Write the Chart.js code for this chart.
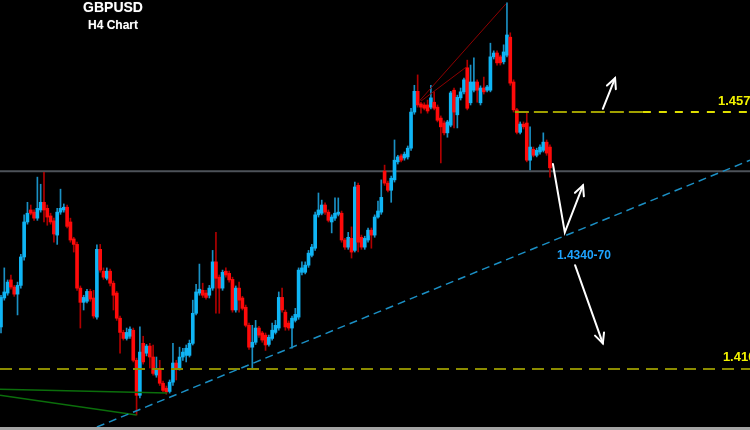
<!DOCTYPE html>
<html lang="en">
<head>
<meta charset="UTF-8">
<title>GBPUSD H4 Chart</title>
<script src="https://cdn.jsdelivr.net/npm/chart.js"></script>
<style>
    html, body { margin: 0; padding: 0; background: #a4a4a4; }
    .wrap { position: relative; width: 750px; height: 427px; background: #000; }
    canvas { display: block; }
    .title {
        position: absolute; left: 53px; width: 120px; text-align: center;
        color: #fff; font-family: "Liberation Sans", Arial, sans-serif; font-weight: bold;
        text-shadow: 0 0 1px #666;
    }
    #t1 { top: -1px; font-size: 14px; }
    #t2 { top: 18px; font-size: 12px; }
</style>
</head>
<body>
<div class="wrap">
    <canvas id="chart" width="750" height="427"></canvas>
    <div class="title" id="t1">GBPUSD</div>
    <div class="title" id="t2">H4 Chart</div>
</div>

<script>
// H4 candles, oldest first
const open = [
    1.4177, 1.4230, 1.4239, 1.4263, 1.4250, 1.4237, 1.4253, 1.4305, 1.4369, 1.4391,
    1.4387, 1.4376, 1.4391, 1.4405, 1.4394, 1.4380, 1.4371, 1.4345, 1.4387, 1.4391,
    1.4396, 1.4369, 1.4338, 1.4328, 1.4248, 1.4222, 1.4224, 1.4242, 1.4230, 1.4195,
    1.4319, 1.4279, 1.4266, 1.4279, 1.4257, 1.4239, 1.4193, 1.4167, 1.4156, 1.4160,
    1.4171, 1.4116, 1.4052, 1.4147, 1.4129, 1.4142, 1.4122, 1.4089, 1.4100, 1.4074,
    1.4065, 1.4059, 1.4076, 1.4111, 1.4100, 1.4122, 1.4125, 1.4125, 1.4147, 1.4202,
    1.4239, 1.4244, 1.4239, 1.4235, 1.4248, 1.4296, 1.4268, 1.4248, 1.4279, 1.4275,
    1.4264, 1.4208, 1.4248, 1.4230, 1.4213, 1.4180, 1.4140, 1.4149, 1.4175, 1.4166,
    1.4162, 1.4145, 1.4156, 1.4167, 1.4175, 1.4231, 1.4204, 1.4184, 1.4175, 1.4189,
    1.4195, 1.4277, 1.4277, 1.4290, 1.4308, 1.4321, 1.4382, 1.4385, 1.4400, 1.4387,
    1.4369, 1.4376, 1.4383, 1.4385, 1.4336, 1.4323, 1.4339, 1.4317, 1.4436, 1.4341,
    1.4323, 1.4336, 1.4354, 1.4345, 1.4378, 1.4387, 1.4462, 1.4440, 1.4427, 1.4446,
    1.4479, 1.4490, 1.4486, 1.4488, 1.4504, 1.4570, 1.4608, 1.4585, 1.4583, 1.4583,
    1.4579, 1.4588, 1.4579, 1.4559, 1.4550, 1.4532, 1.4546, 1.4610, 1.4565, 1.4596,
    1.4607, 1.4651, 1.4587, 1.4610, 1.4625, 1.4587, 1.4614, 1.4610, 1.4610, 1.4671,
    1.4678, 1.4671, 1.4662, 1.4674, 1.4707, 1.4625, 1.4574, 1.4533, 1.4548, 1.4550,
    1.4482, 1.4502, 1.4491, 1.4497, 1.4500, 1.4515, 1.4506
];
const high = [
    1.4235, 1.4285, 1.4263, 1.4272, 1.4253, 1.4259, 1.4310, 1.4382, 1.4405, 1.4400,
    1.4391, 1.4451, 1.4438, 1.4460, 1.4400, 1.4385, 1.4376, 1.4394, 1.4429, 1.4402,
    1.4400, 1.4376, 1.4341, 1.4332, 1.4252, 1.4235, 1.4246, 1.4246, 1.4244, 1.4327,
    1.4328, 1.4285, 1.4285, 1.4283, 1.4261, 1.4242, 1.4197, 1.4171, 1.4175, 1.4177,
    1.4175, 1.4120, 1.4177, 1.4160, 1.4145, 1.4147, 1.4144, 1.4122, 1.4116, 1.4078,
    1.4069, 1.4080, 1.4147, 1.4116, 1.4140, 1.4138, 1.4144, 1.4153, 1.4226, 1.4255,
    1.4292, 1.4257, 1.4244, 1.4253, 1.4317, 1.4350, 1.4272, 1.4281, 1.4285, 1.4279,
    1.4268, 1.4252, 1.4259, 1.4233, 1.4217, 1.4184, 1.4180, 1.4189, 1.4178, 1.4169,
    1.4166, 1.4162, 1.4184, 1.4189, 1.4241, 1.4248, 1.4208, 1.4188, 1.4197, 1.4211,
    1.4285, 1.4296, 1.4296, 1.4317, 1.4328, 1.4387, 1.4422, 1.4409, 1.4404, 1.4391,
    1.4382, 1.4413, 1.4413, 1.4389, 1.4339, 1.4350, 1.4360, 1.4442, 1.4440, 1.4345,
    1.4343, 1.4358, 1.4358, 1.4382, 1.4407, 1.4446, 1.4473, 1.4444, 1.4453, 1.4519,
    1.4491, 1.4493, 1.4497, 1.4508, 1.4577, 1.4619, 1.4638, 1.4588, 1.4587, 1.4592,
    1.4619, 1.4607, 1.4583, 1.4563, 1.4554, 1.4555, 1.4608, 1.4614, 1.4601, 1.4614,
    1.4632, 1.4665, 1.4656, 1.4669, 1.4629, 1.4618, 1.4634, 1.4619, 1.4696, 1.4682,
    1.4682, 1.4674, 1.4693, 1.4770, 1.4715, 1.4629, 1.4577, 1.4552, 1.4552, 1.4568,
    1.4543, 1.4506, 1.4504, 1.4510, 1.4532, 1.4519, 1.4510
];
const low = [
    1.4166, 1.4226, 1.4235, 1.4246, 1.4233, 1.4199, 1.4248, 1.4299, 1.4365, 1.4382,
    1.4372, 1.4372, 1.4387, 1.4369, 1.4363, 1.4365, 1.4332, 1.4328, 1.4383, 1.4387,
    1.4358, 1.4332, 1.4314, 1.4244, 1.4175, 1.4208, 1.4221, 1.4224, 1.4193, 1.4191,
    1.4277, 1.4264, 1.4263, 1.4252, 1.4208, 1.4189, 1.4129, 1.4153, 1.4153, 1.4156,
    1.4113, 1.4016, 1.4047, 1.4109, 1.4124, 1.4102, 1.4089, 1.4085, 1.4070, 1.4058,
    1.4054, 1.4056, 1.4070, 1.4080, 1.4098, 1.4116, 1.4113, 1.4122, 1.4144, 1.4199,
    1.4235, 1.4231, 1.4228, 1.4230, 1.4244, 1.4202, 1.4202, 1.4244, 1.4268, 1.4259,
    1.4204, 1.4204, 1.4204, 1.4208, 1.4177, 1.4136, 1.4102, 1.4145, 1.4158, 1.4149,
    1.4134, 1.4142, 1.4153, 1.4164, 1.4171, 1.4204, 1.4171, 1.4171, 1.4138, 1.4186,
    1.4191, 1.4272, 1.4274, 1.4286, 1.4305, 1.4317, 1.4378, 1.4382, 1.4383, 1.4369,
    1.4349, 1.4372, 1.4380, 1.4332, 1.4319, 1.4319, 1.4303, 1.4314, 1.4314, 1.4319,
    1.4319, 1.4332, 1.4321, 1.4341, 1.4376, 1.4383, 1.4436, 1.4424, 1.4405, 1.4442,
    1.4475, 1.4479, 1.4482, 1.4484, 1.4500, 1.4566, 1.4579, 1.4568, 1.4574, 1.4568,
    1.4576, 1.4574, 1.4552, 1.4477, 1.4528, 1.4524, 1.4543, 1.4541, 1.4541, 1.4592,
    1.4603, 1.4574, 1.4583, 1.4607, 1.4588, 1.4583, 1.4603, 1.4607, 1.4607, 1.4667,
    1.4656, 1.4656, 1.4658, 1.4671, 1.4619, 1.4570, 1.4530, 1.4530, 1.4539, 1.4479,
    1.4464, 1.4488, 1.4488, 1.4493, 1.4497, 1.4491, 1.4451
];
const close = [
    1.4231, 1.4241, 1.4259, 1.4250, 1.4237, 1.4253, 1.4305, 1.4369, 1.4385, 1.4385,
    1.4376, 1.4394, 1.4405, 1.4391, 1.4378, 1.4369, 1.4347, 1.4387, 1.4394, 1.4396,
    1.4361, 1.4336, 1.4328, 1.4248, 1.4222, 1.4231, 1.4242, 1.4228, 1.4197, 1.4319,
    1.4281, 1.4268, 1.4279, 1.4257, 1.4235, 1.4193, 1.4167, 1.4156, 1.4167, 1.4173,
    1.4116, 1.4052, 1.4131, 1.4113, 1.4142, 1.4122, 1.4092, 1.4098, 1.4074, 1.4061,
    1.4058, 1.4076, 1.4111, 1.4100, 1.4122, 1.4131, 1.4138, 1.4147, 1.4202, 1.4241,
    1.4246, 1.4235, 1.4231, 1.4248, 1.4296, 1.4266, 1.4248, 1.4277, 1.4272, 1.4263,
    1.4208, 1.4248, 1.4226, 1.4211, 1.4180, 1.4140, 1.4149, 1.4175, 1.4162, 1.4153,
    1.4144, 1.4158, 1.4171, 1.4180, 1.4231, 1.4208, 1.4177, 1.4175, 1.4193, 1.4200,
    1.4281, 1.4285, 1.4290, 1.4312, 1.4323, 1.4382, 1.4391, 1.4400, 1.4387, 1.4372,
    1.4378, 1.4385, 1.4387, 1.4336, 1.4323, 1.4341, 1.4314, 1.4433, 1.4332, 1.4323,
    1.4339, 1.4354, 1.4345, 1.4378, 1.4389, 1.4414, 1.4440, 1.4427, 1.4449, 1.4482,
    1.4488, 1.4482, 1.4493, 1.4504, 1.4570, 1.4608, 1.4583, 1.4579, 1.4577, 1.4572,
    1.4596, 1.4577, 1.4555, 1.4543, 1.4532, 1.4552, 1.4605, 1.4570, 1.4597, 1.4607,
    1.4629, 1.4577, 1.4625, 1.4625, 1.4610, 1.4614, 1.4607, 1.4616, 1.4671, 1.4678,
    1.4660, 1.4660, 1.4680, 1.4711, 1.4623, 1.4574, 1.4533, 1.4548, 1.4543, 1.4482,
    1.4506, 1.4491, 1.4500, 1.4506, 1.4515, 1.4495, 1.4468
];

// price levels and drawn lines, as [bar index, price]
const resistance = 1.4570;
const support = 1.4100;
const pivot = 1.4462;
const resistanceFrom = 155.4;
const resistanceSplit = 194.1;
const trendline = [[29.0, 1.3994], [226.5, 1.4482]];
const wedgeUpper = [[126.5, 1.4590], [152.7, 1.4768]];
const wedgeLower = [[127.0, 1.4590], [140.6, 1.4652]];
const greenUpper = [[-0.3, 1.4063], [50.2, 1.4056]];
const greenLower = [[-0.3, 1.4052], [41.0, 1.4016]];
const arrowUp = [[182.0, 1.4576], [185.7, 1.4632]];
const arrowBounce = [[166.9, 1.4475], [170.5, 1.4350], [176.0, 1.4436]];
const arrowDown = [[173.6, 1.4290], [182.0, 1.4147]];
const labelTexts = ['1.4570', '1.4100', '1.4340-70'];
const labelAnchors = [[216.8, 1.4590], [218.3, 1.4121], [168.1, 1.4307]];

const xMin = -0.3, xMax = 226.5;
const yMin = 1.3994, yMax = 1.4775;

const BULL = '#0fb5f5', BEAR = '#ff0a0a';
const BULL_WICK = '#1a90c4', BEAR_WICK = '#b00000';

const pts = arr => arr.map(([x, y]) => ({ x, y }));
const lineSet = (data, color, width, dash, order) => ({
    type: 'line', data, borderColor: color, borderWidth: width,
    borderDash: dash, pointRadius: 0, fill: false, order: order
});

const annotate = {
    id: 'annotate',
    afterDatasetsDraw(chart) {
        const { ctx, scales: { x, y } } = chart;
        const px = ([a, b]) => [x.getPixelForValue(a), y.getPixelForValue(b)];
        ctx.save();
        ctx.strokeStyle = '#ffffff';
        ctx.lineWidth = 2;
        ctx.lineCap = 'round';
        [arrowUp, arrowBounce, arrowDown].forEach(path => {
            const p = path.map(px);
            ctx.beginPath();
            p.forEach(([a, b], k) => k ? ctx.lineTo(a, b) : ctx.moveTo(a, b));
            ctx.stroke();
            const [x1, y1] = p[p.length - 2], [x2, y2] = p[p.length - 1];
            const ang = Math.atan2(y2 - y1, x2 - x1), L = 11, w = 0.45;
            ctx.beginPath();
            ctx.moveTo(x2 - L * Math.cos(ang - w), y2 - L * Math.sin(ang - w));
            ctx.lineTo(x2, y2);
            ctx.lineTo(x2 - L * Math.cos(ang + w), y2 - L * Math.sin(ang + w));
            ctx.stroke();
        });

        ctx.textBaseline = 'middle';
        ctx.textAlign = 'left';
        const colors = ['#f2f200', '#f2f200', '#1ea4ff'];
        const sizes = [13, 13, 12];
        labelTexts.forEach((t, i) => {
            const [a, b] = px(labelAnchors[i]);
            ctx.font = 'bold ' + sizes[i] + 'px "Liberation Sans", Arial, sans-serif';
            ctx.fillStyle = colors[i];
            ctx.fillText(t, a, b);
        });
        ctx.restore();
    }
};

new Chart(document.getElementById('chart'), {
    type: 'bar',
    data: {
        datasets: [
            lineSet(pts(trendline), '#1b8fc4', 1.5, [8, 5], 0),
            lineSet([{ x: xMin, y: support }, { x: xMax, y: support }], '#8c8c00', 2, [12, 7], 0),
            lineSet([{ x: resistanceFrom, y: resistance }, { x: resistanceSplit, y: resistance }], '#a0a000', 2, [14, 5], 0),
            lineSet([{ x: resistanceSplit, y: resistance }, { x: xMax, y: resistance }], '#dede00', 2, [8, 8], 0),
            lineSet(pts(wedgeUpper), '#8e0000', 1, [], 0),
            lineSet(pts(wedgeLower), '#8e0000', 1, [], 0),
            lineSet(pts(greenUpper), '#0b6e0b', 1.5, [], 0),
            lineSet(pts(greenLower), '#0b6e0b', 1.5, [], 0),
            {
                type: 'bar',
                data: close.map((c, i) => ({ x: i, y: [open[i], c] })),
                backgroundColor: close.map((c, i) => c >= open[i] ? BULL : BEAR),
                barThickness: 3, minBarLength: 1, grouped: false, order: 1
            },
            {
                type: 'bar',
                data: low.map((l, i) => ({ x: i, y: [l, high[i]] })),
                backgroundColor: close.map((c, i) => c >= open[i] ? BULL_WICK : BEAR_WICK),
                barThickness: 1, grouped: false, order: 2
            },
            lineSet([{ x: xMin, y: pivot }, { x: xMax, y: pivot }], '#4d5259', 2, [], 3)
        ]
    },
    options: {
        responsive: false,
        animation: false,
        events: [],
        layout: { padding: 0 },
        plugins: { legend: { display: false }, tooltip: { enabled: false } },
        scales: {
            x: { type: 'linear', min: xMin, max: xMax, offset: false, display: false },
            y: { min: yMin, max: yMax, display: false }
        }
    },
    plugins: [annotate]
});
</script>
</body>
</html>
